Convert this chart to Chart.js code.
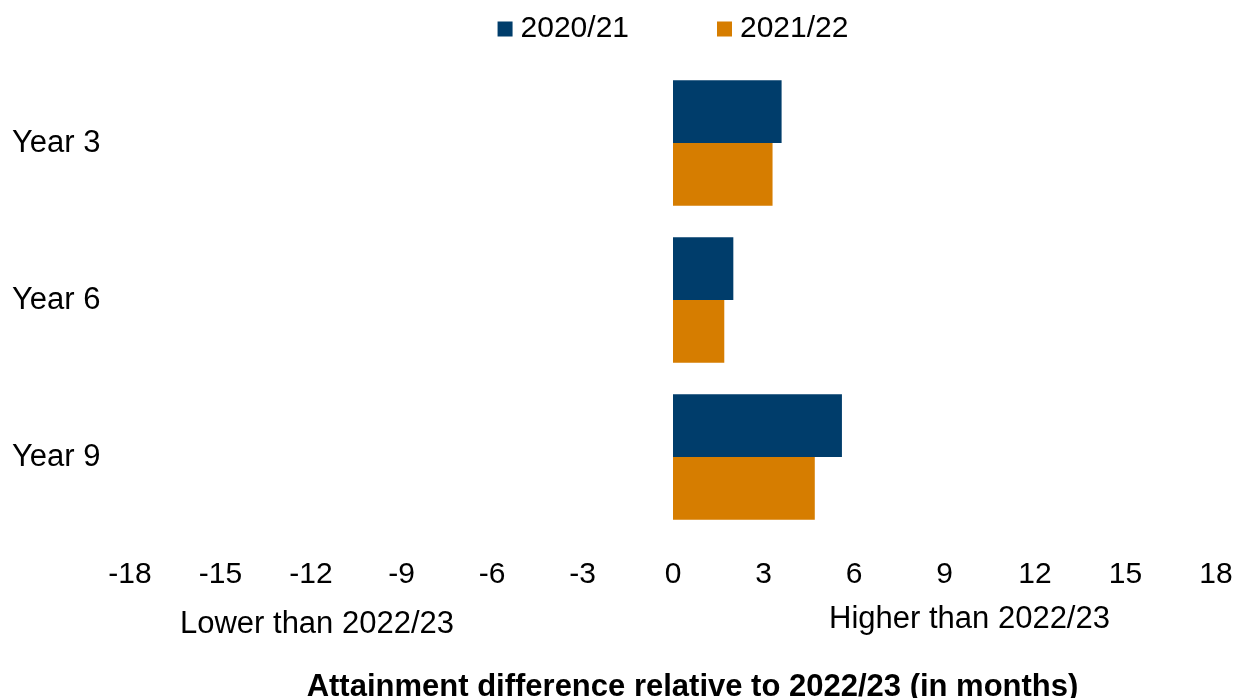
<!DOCTYPE html>
<html>
<head>
<meta charset="utf-8">
<script src="https://cdn.jsdelivr.net/npm/chart.js@4.4.1/dist/chart.umd.min.js"></script>
<style>
  html, body { margin: 0; padding: 0; background: #ffffff; }
  #wrap { width: 1235px; height: 698px; }
</style>
</head>
<body>
<div id="wrap"><canvas id="chart" width="1235" height="698"></canvas></div>
<script>
// Year groups shown on the vertical axis
const categories = ['Year 3', 'Year 6', 'Year 9'];
// Series names
const seriesNames = ['2020/21', '2021/22'];
// Attainment difference in months, one value per year group
const values2020_21 = [3.6, 2.0, 5.6];
const values2021_22 = [3.3, 1.7, 4.7];
// Tick values along the horizontal axis
const xTickValues = [-18, -15, -12, -9, -6, -3, 0, 3, 6, 9, 12, 15, 18];
// Axis texts
const axisTitle = 'Attainment difference relative to 2022/23 (in months)';
const lowerLabel = 'Lower than 2022/23';
const higherLabel = 'Higher than 2022/23';

const seriesColors = ['#003D6B', '#D67D00'];
const FONT = '"Liberation Sans", Arial, Helvetica, sans-serif';

// Draws the legend row, the two side notes and the axis title
const extraText = {
  id: 'extraText',
  afterDraw(chart) {
    const { ctx, chartArea } = chart;
    ctx.save();
    ctx.fillStyle = '#000';
    ctx.textBaseline = 'alphabetic';

    ctx.font = '31px ' + FONT;
    ctx.textAlign = 'center';
    ctx.fillText(lowerLabel, 317, 633);
    ctx.fillText(higherLabel, 969.5, 628);

    ctx.font = 'bold 31px ' + FONT;
    ctx.fillText(axisTitle, 692.5, 696);

    // legend
    ctx.font = '30px ' + FONT;
    ctx.textAlign = 'left';
    const box = 15, gapText = 8, gapItem = 88;
    const sets = chart.data.datasets;
    const widths = sets.map(d => ctx.measureText(d.label).width);
    const total = widths.reduce((s, w) => s + box + gapText + w, 0) + gapItem * (sets.length - 1);
    let x = (chartArea.left + chartArea.right) / 2 - total / 2;
    sets.forEach((d, i) => {
      ctx.fillStyle = d.backgroundColor;
      ctx.fillRect(x, 21.5, box, box);
      ctx.fillStyle = '#000';
      ctx.fillText(d.label, x + box + gapText, 36.5);
      x += box + gapText + widths[i] + gapItem;
    });
    ctx.restore();
  }
};

new Chart(document.getElementById('chart'), {
  type: 'bar',
  data: {
    labels: categories,
    datasets: [
      { label: seriesNames[0], data: values2020_21, backgroundColor: seriesColors[0], borderWidth: 0 },
      { label: seriesNames[1], data: values2021_22, backgroundColor: seriesColors[1], borderWidth: 0 }
    ]
  },
  options: {
    responsive: false,
    animation: false,
    indexAxis: 'y',
    layout: { padding: { left: 12, right: 19, top: 64.5, bottom: 0 } },
    datasets: { bar: { categoryPercentage: 0.8, barPercentage: 1.0 } },
    plugins: {
      legend: { display: false },
      tooltip: { enabled: false }
    },
    scales: {
      x: {
        min: -18,
        max: 18,
        grid: { display: false, drawTicks: false },
        border: { display: false },
        afterBuildTicks: s => { s.ticks = xTickValues.map(v => ({ value: v })); },
        afterFit: s => {
          s.height = 162.5;
          s.paddingLeft = 0;
          s.paddingRight = 0;
        },
        ticks: {
          font: { family: FONT, size: 30 },
          color: '#000',
          padding: 21,
          maxRotation: 0,
          autoSkip: false
        }
      },
      y: {
        grid: { display: false, drawTicks: false },
        border: { display: false },
        afterFit: s => { s.width = 118; },
        ticks: {
          font: { family: FONT, size: 31 },
          color: '#000',
          crossAlign: 'far',
          padding: 0
        }
      }
    }
  },
  plugins: [extraText]
});
</script>
</body>
</html>
